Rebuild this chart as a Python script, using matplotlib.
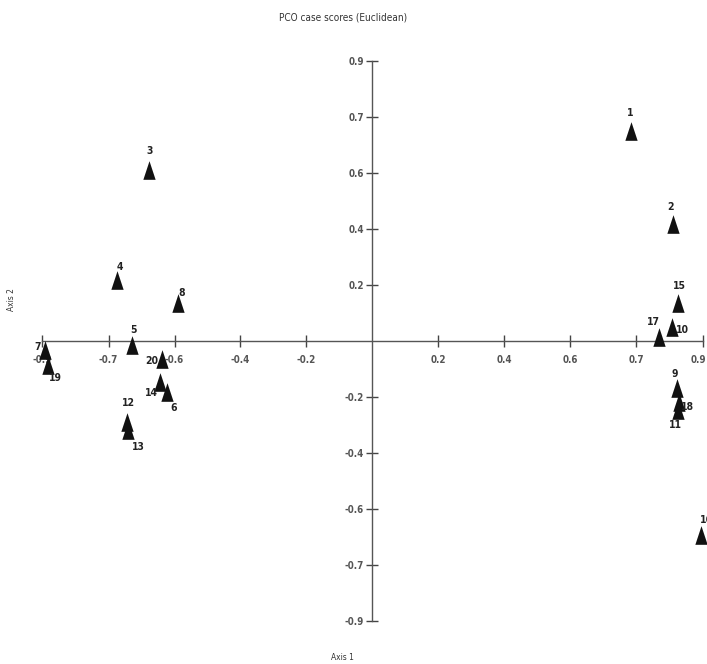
import matplotlib
matplotlib.use("Agg")
import matplotlib.pyplot as plt
from matplotlib.path import Path
import matplotlib.transforms as mtransforms
import numpy as np

# ---- data (PCO case scores) ----
case_ids = [str(i) for i in range(1, 21)]
axis1 = [0.725, 0.842, -0.626, -0.716, -0.674, -0.576, -0.918, -0.545, 0.854, 0.840,
         0.857, -0.688, -0.685, -0.596, 0.856, 0.921, 0.803, 0.859, -0.910, -0.590]
axis2 = [0.694, 0.386, 0.565, 0.202, -0.013, -0.168, -0.030, 0.126, -0.155, 0.046,
         -0.228, -0.268, -0.294, -0.135, 0.126, -0.641, 0.013, -0.202, -0.079, -0.059]
tick_step = 0.185
tick_labels_x = ["-0.9", "-0.7", "-0.6", "-0.4", "-0.2", "0.2", "0.4", "0.6", "0.7", "0.9"]
tick_labels_y = ["-0.9", "-0.7", "-0.6", "-0.4", "-0.2", "0.2", "0.4", "0.6", "0.7", "0.9"]
title = "PCO case scores (Euclidean)"
xlabel = "Axis 1"
ylabel = "Axis 2"

# label offsets (points) relative to each marker
label_dx = [-1, -2, 0, 3, 1, 7, -7, 4, -2, 10, -3, 1, 10, -8, 2, 5, -6, 9, 8, -10]
label_dy = [18, 17, 19, 13, 15, -16, 3, 10, 14, -3, -15, 19, -17, -11, 17, 15, 15, -5, -13, -2]

narrow = ["DejaVu Sans"]
STRETCH = "condensed"

W, H = 707, 664
fig = plt.figure(figsize=(W / 100, H / 100), dpi=100)
x0, x1 = 42.5, 702.5
y_top, y_bot = 61, 621
ax = fig.add_axes([x0 / W, (H - y_bot) / H, (x1 - x0) / W, (y_bot - y_top) / H])
ax.set_xlim(-5 * tick_step, 5 * tick_step)
ax.set_ylim(-5 * tick_step, 5 * tick_step)

for s in ["top", "right"]:
    ax.spines[s].set_visible(False)
ax.spines["left"].set_position("zero")
ax.spines["bottom"].set_position("zero")
for s in ["left", "bottom"]:
    ax.spines[s].set_color("#555555")
    ax.spines[s].set_linewidth(1.0)

ticks = [k * tick_step for k in [-5, -4, -3, -2, -1, 1, 2, 3, 4, 5]]
ax.set_xticks(ticks)
ax.set_xticklabels(tick_labels_x)
ax.set_yticks(ticks)
ax.set_yticklabels(tick_labels_y)
ax.tick_params(axis="both", direction="inout", length=8, width=1.0, color="#444444",
               labelsize=7, labelcolor="#555555")
ax.tick_params(axis="x", pad=6)
ax.tick_params(axis="y", pad=2)
for lab in ax.get_xticklabels() + ax.get_yticklabels():
    lab.set_family(narrow)
    lab.set_fontstretch(STRETCH)
    lab.set_fontweight("bold")
# nudge the last x tick label so it stays inside the figure
last = ax.get_xticklabels()[-1]
last.set_transform(last.get_transform() +
                   mtransforms.ScaledTranslation(-4 / 100, 0, fig.dpi_scale_trans))

tri = Path([(-0.33, -0.5), (0.33, -0.5), (0.0, 0.5), (-0.33, -0.5)],
           [Path.MOVETO, Path.LINETO, Path.LINETO, Path.CLOSEPOLY])
ax.scatter(axis1, axis2, marker=tri, s=180, color="#111111", linewidths=0,
           zorder=3, clip_on=False)

for cid, x, y, dx, dy in zip(case_ids, axis1, axis2, label_dx, label_dy):
    ax.annotate(cid, (x, y), xytext=(dx * 0.72, dy * 0.72), textcoords="offset points",
                ha="center", va="center", fontsize=7.5, fontweight="bold",
                family=narrow, fontstretch=STRETCH, color="#222222",
                annotation_clip=False)

fig.text(343 / W, 1 - 17 / H, title, ha="center", va="center", fontsize=7.2,
         family=narrow, fontstretch=STRETCH, color="#333333")
fig.text(342 / W, 1 - 657 / H, xlabel, ha="center", va="center", fontsize=6,
         family=narrow, fontstretch=STRETCH, color="#333333")
fig.text(12 / W, 1 - 300 / H, ylabel, ha="center", va="center", fontsize=6,
         rotation=90, family=narrow, fontstretch=STRETCH, color="#333333")

fig.savefig("out.png", dpi=100)
